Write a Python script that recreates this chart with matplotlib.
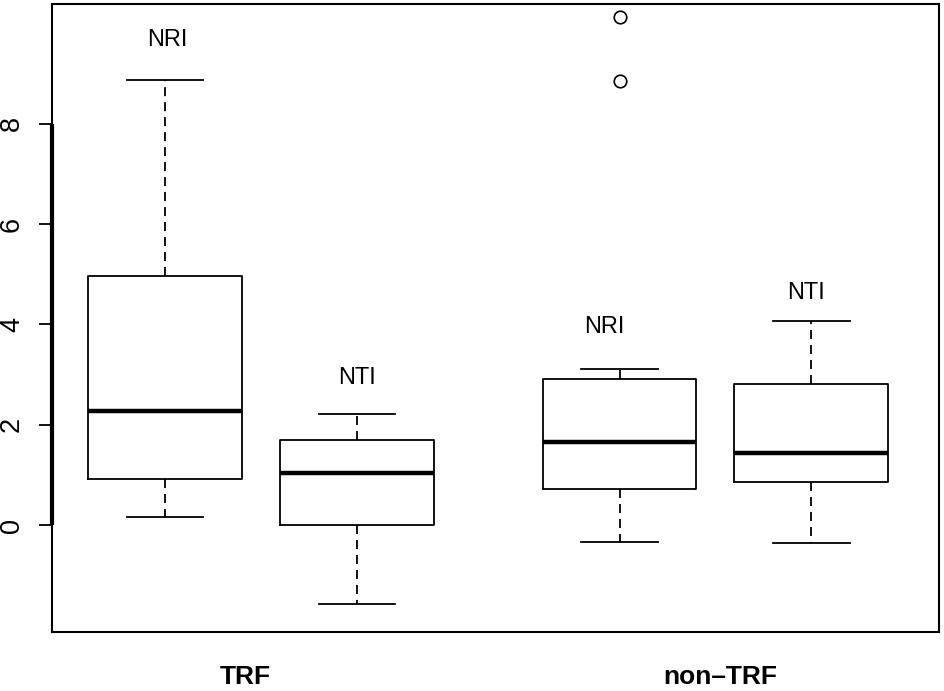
import matplotlib
matplotlib.use('Agg')
import matplotlib.pyplot as plt
import matplotlib.transforms as mtransforms

plt.rcParams['font.family'] = ['Liberation Sans', 'DejaVu Sans']

# 箱线图统计值
box_labels = ['NRI', 'NTI', 'NRI', 'NTI']
groups = ['TRF', 'non\u2013TRF']
whislo = [0.17, -1.57, -0.33, -0.35]
q1 = [0.92, 0.0, 0.72, 0.86]
med = [2.28, 1.04, 1.66, 1.44]
q3 = [4.97, 1.70, 2.92, 2.82]
whishi = [8.87, 2.22, 3.12, 4.07]
fliers = [[], [], [10.12, 8.85], []]

# 位置与标注
positions = [1, 2, 3.367, 4.365]
label_x = [1.01, 2.0, 3.29, 4.34]
label_y = [9.67, 2.94, 3.94, 4.62]
group_x = [1.417, 3.89]
yticks = [0, 2, 4, 6, 8]

stats = []
for i in range(4):
    stats.append({'whislo': whislo[i], 'q1': q1[i], 'med': med[i],
                  'q3': q3[i], 'whishi': whishi[i], 'fliers': fliers[i]})

fig = plt.figure(figsize=(9.45, 6.91), dpi=100)
ax = fig.add_axes([0.055, 0.0854, 0.9387, 0.9088])

ax.bxp(stats, positions=positions, widths=0.8, showfliers=True,
       boxprops=dict(color='black', linewidth=1.3),
       whiskerprops=dict(color='black', linewidth=1.3, linestyle=(0, (5, 3.3))),
       capprops=dict(color='black', linewidth=1.3),
       medianprops=dict(color='black', linewidth=3.2, solid_capstyle='butt'),
       flierprops=dict(marker='o', markersize=9, markerfacecolor='none',
                       markeredgecolor='black', markeredgewidth=1.2))

ax.set_xlim(0.4115, 5.031)
ax.set_ylim(-2.125, 10.38)

for s in ax.spines.values():
    s.set_linewidth(1.5)

# R 风格的 y 轴线（只画 0~8）
ax.plot([0.4115, 0.4115], [0, 8], color='black', lw=3, clip_on=False, solid_capstyle='butt')

ax.set_yticks(yticks)
ax.set_yticklabels([str(t) for t in yticks], rotation=90, va='center', fontsize=19.5)
ax.tick_params(axis='y', length=9.5, width=1.3, pad=10)
ax.set_xticks([])

for x, y, t in zip(label_x, label_y, box_labels):
    ax.text(x, y, t, ha='center', va='center', fontsize=17)

trans = mtransforms.blended_transform_factory(ax.transData, ax.transAxes)
for x, g in zip(group_x, groups):
    ax.text(x, -0.072, g, transform=trans, ha='center', va='center',
            fontsize=19, fontweight='bold')

fig.savefig('out.png', dpi=100)
